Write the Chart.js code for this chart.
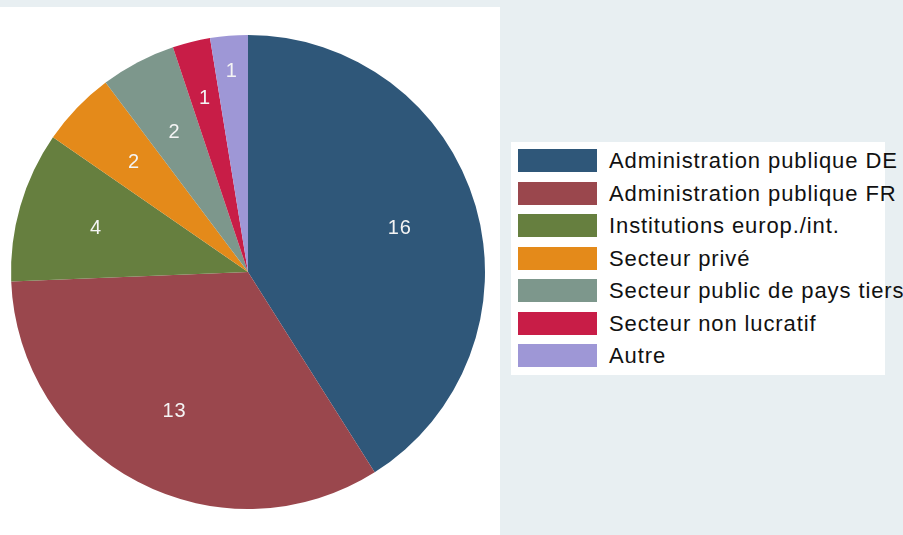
<!DOCTYPE html>
<html>
<head>
<meta charset="utf-8">
<script src="https://cdn.jsdelivr.net/npm/chart.js@4"></script>
<style>
    body { margin: 0; width: 903px; height: 535px; background: #e8eff2; position: relative; overflow: hidden; font-family: Arial, "Liberation Sans", sans-serif; }
    #panel { position: absolute; left: 0; top: 7px; width: 500px; height: 528px; background: #fff; }
    #legend { position: absolute; left: 511px; top: 142px; width: 374px; height: 233px; background: #fff; }
    .item { position: absolute; left: 7px; height: 23px; white-space: nowrap; }
    .swatch { position: absolute; left: 0; top: 0; width: 79px; height: 23px; }
    .label { position: absolute; left: 91px; top: 0; line-height: 23px; font-size: 22px; letter-spacing: 0.9px; color: #111; }
</style>
</head>
<body>
<div id="panel"><canvas id="pieChart" width="500" height="528"></canvas></div>
<div id="legend"></div>
<script>
// Données
const categories = [
    'Administration publique DE',
    'Administration publique FR',
    'Institutions europ./int.',
    'Secteur privé',
    'Secteur public de pays tiers',
    'Secteur non lucratif',
    'Autre'
];
const counts = [16, 13, 4, 2, 2, 1, 1];
const colors = ['#2f5779', '#9a474d', '#667f3f', '#e48a1a', '#7d978c', '#c81d47', '#9e97d6'];

// distance des étiquettes (fraction du rayon)
const labelDist = [0.667, 0.667, 0.667, 0.667, 0.667, 0.755, 0.85];

// Étiquettes dans les parts
const sliceLabels = {
    id: 'sliceLabels',
    afterDatasetsDraw(chart) {
        const ctx = chart.ctx;
        const meta = chart.getDatasetMeta(0);
        ctx.save();
        ctx.fillStyle = '#f4f4f4';
        ctx.font = '20px Arial, "Liberation Sans", sans-serif';
        ctx.letterSpacing = '1px';
        ctx.textAlign = 'center';
        ctx.textBaseline = 'middle';
        meta.data.forEach((arc, i) => {
            const p = arc.getProps(['x', 'y', 'startAngle', 'endAngle', 'outerRadius'], true);
            const mid = (p.startAngle + p.endAngle) / 2;
            const r = p.outerRadius * labelDist[i];
            ctx.fillText(String(counts[i]), p.x + Math.cos(mid) * r, p.y + Math.sin(mid) * r);
        });
        ctx.restore();
    }
};

new Chart(document.getElementById('pieChart'), {
    type: 'pie',
    data: {
        labels: categories,
        datasets: [{
            data: counts,
            backgroundColor: colors,
            borderWidth: 0
        }]
    },
    options: {
        responsive: false,
        animation: false,
        layout: { padding: { left: 11, right: 15, top: 28, bottom: 26 } },
        plugins: {
            legend: { display: false },
            tooltip: { enabled: false }
        }
    },
    plugins: [sliceLabels]
});

// Légende
const legend = document.getElementById('legend');
legend.innerHTML = categories.map((name, i) => `
    <div class="item" style="top:${7 + i * 32.5}px">
        <div class="swatch" style="background:${colors[i]}"></div>
        <div class="label">${name}</div>
    </div>
`).join('');
</script>
</body>
</html>
